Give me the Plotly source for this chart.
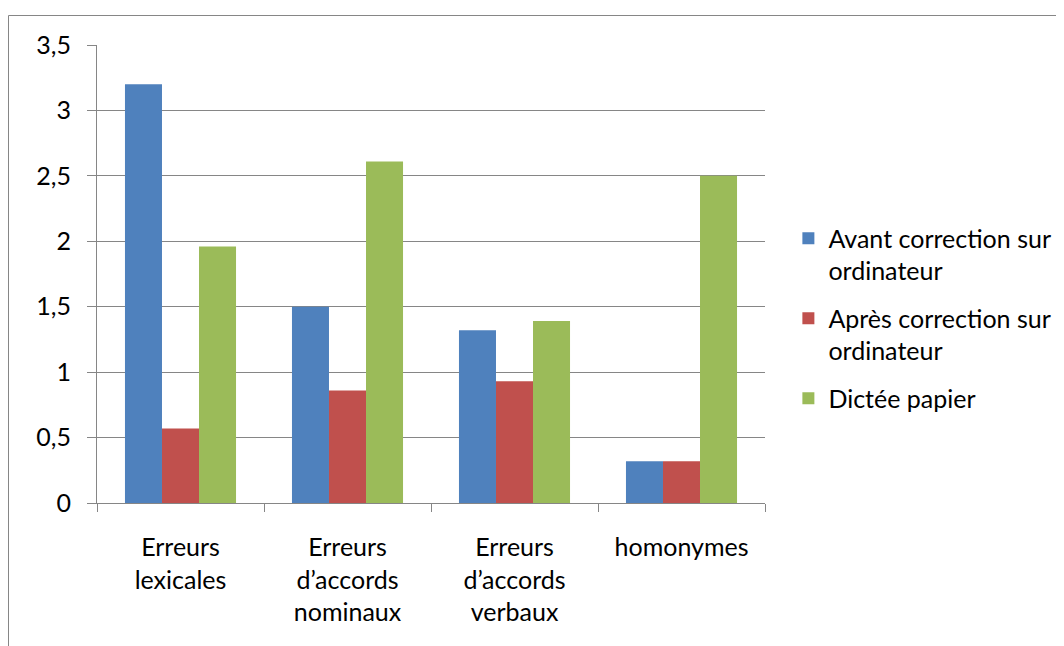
import plotly.graph_objects as go

categories = ["Erreurs<br>lexicales", "Erreurs<br>d’accords<br>nominaux",
              "Erreurs<br>d’accords<br>verbaux", "homonymes"]
series_names = ["Avant correction sur<br>ordinateur",
                "Après correction sur<br>ordinateur",
                "Dictée papier"]
avant = [3.2, 1.5, 1.32, 0.32]
apres = [0.57, 0.86, 0.93, 0.32]
dictee = [1.96, 2.61, 1.39, 2.5]
colors = ["#4F81BD", "#C0504D", "#9BBB59"]

FONT = "Lato"
FS = 25
fig = go.Figure()
for i, (name, vals) in enumerate(zip(series_names, [avant, apres, dictee])):
    fig.add_trace(go.Bar(x=categories, y=vals, name=name,
                         marker=dict(color=colors[i], line=dict(width=0)),
                         legendgroup=f"g{i}"))

W, H = 1064, 646
OFF = 8  # page body margin
L, R, T, B = 97 - OFF, 765 - OFF, 45 - OFF, 503 - OFF
fig.update_layout(
    width=W, height=H,
    margin=dict(l=L, r=W - R, t=T, b=H - B, pad=0),
    paper_bgcolor="white", plot_bgcolor="white",
    separators=", ",
    barmode="group", bargap=0.335, bargroupgap=0,
    font=dict(family=FONT, size=FS, color="#000000"),
    showlegend=True,
    legend=dict(x=1.035, xanchor="left", y=0.403, yanchor="middle",
                valign="top", tracegroupgap=12,
                font=dict(family=FONT, size=FS, color="#000000"),
                bgcolor="rgba(0,0,0,0)"),
    xaxis=dict(showline=True, linecolor="#868686", linewidth=1,
               ticks="outside", tickson="boundaries", ticklen=8,
               tickcolor="#868686", showgrid=False,
               ticklabelstandoff=22,
               tickfont=dict(family=FONT, size=FS, color="#000000")),
    yaxis=dict(range=[0, 3.5], dtick=0.5, tick0=0,
               showline=True, linecolor="#868686", linewidth=1,
               ticks="outside", ticklen=9, tickcolor="#868686",
               showgrid=True, gridcolor="#868686", gridwidth=1,
               zeroline=False, ticklabelstandoff=11,
               tickfont=dict(family=FONT, size=FS, color="#000000")),
)

pw, ph = R - L, B - T
def px_x(x):
    return (x - OFF - L) / pw
def px_y(y):
    return (B - (y - OFF)) / ph

fig.add_shape(type="line", xref="paper", yref="paper",
              x0=px_x(8.5), x1=px_x(1080), y0=px_y(15.5), y1=px_y(15.5),
              line=dict(color="#868686", width=1))
fig.add_shape(type="line", xref="paper", yref="paper",
              x0=px_x(8.5), x1=px_x(8.5), y0=px_y(15.5), y1=px_y(680),
              line=dict(color="#868686", width=1))

fig.write_html("out.html")
